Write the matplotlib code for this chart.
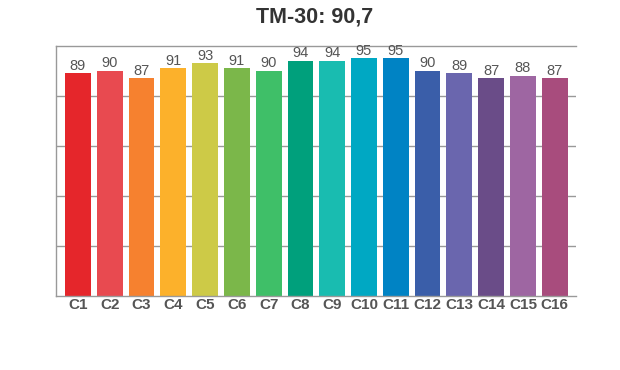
import matplotlib
matplotlib.use("Agg")
import matplotlib.pyplot as plt

plt.rcParams["font.family"] = ["Liberation Sans", "DejaVu Sans"]

# Datos
categorias = ["C1", "C2", "C3", "C4", "C5", "C6", "C7", "C8",
              "C9", "C10", "C11", "C12", "C13", "C14", "C15", "C16"]
valores = [89, 90, 87, 91, 93, 91, 90, 94, 94, 95, 95, 90, 89, 87, 88, 87]
colores = ["#e5262b", "#e84a50", "#f6812f", "#fcb12b", "#cdca47", "#7bb74a",
           "#3fbf68", "#00a07c", "#19bcb0", "#00a8c3", "#0083c4", "#3a5ea9",
           "#6a66ae", "#6a4c88", "#9e66a2", "#a84c7d"]
titulo = "TM-30: 90,7"

fig = plt.figure(figsize=(6.2, 3.7), dpi=100)
ax = fig.add_axes([0.0898, 0.2008, 0.8387, 0.6749])

x = range(len(categorias))
ax.bar(x, valores, width=0.81, color=colores, zorder=2)

# Etiquetas de valor sobre cada barra
for xi, v in zip(x, valores):
    ax.text(xi, v + 0.2, str(v), ha="center", va="bottom",
            fontsize=10.5, color="#555555", zorder=3)

ax.set_xlim(-0.7, 15.66)
ax.set_ylim(0, 100)
ax.set_yticks([20, 40, 60, 80])
ax.set_yticklabels([])
ax.tick_params(axis="y", length=0)
ax.yaxis.grid(True, color="#999999", linewidth=1, zorder=0)

ax.set_xticks(list(x))
ax.set_xticklabels(categorias, fontsize=11, fontweight="bold", color="#555555")
ax.tick_params(axis="x", length=0, pad=1.5)

ax.spines["right"].set_visible(False)
for s in ["left", "top", "bottom"]:
    ax.spines[s].set_color("#999999")
    ax.spines[s].set_linewidth(1)

fig.text(0.508, 0.955, titulo, ha="center", va="center",
         fontsize=15.5, fontweight="bold", color="#333333")

fig.savefig("out.png", dpi=100)
